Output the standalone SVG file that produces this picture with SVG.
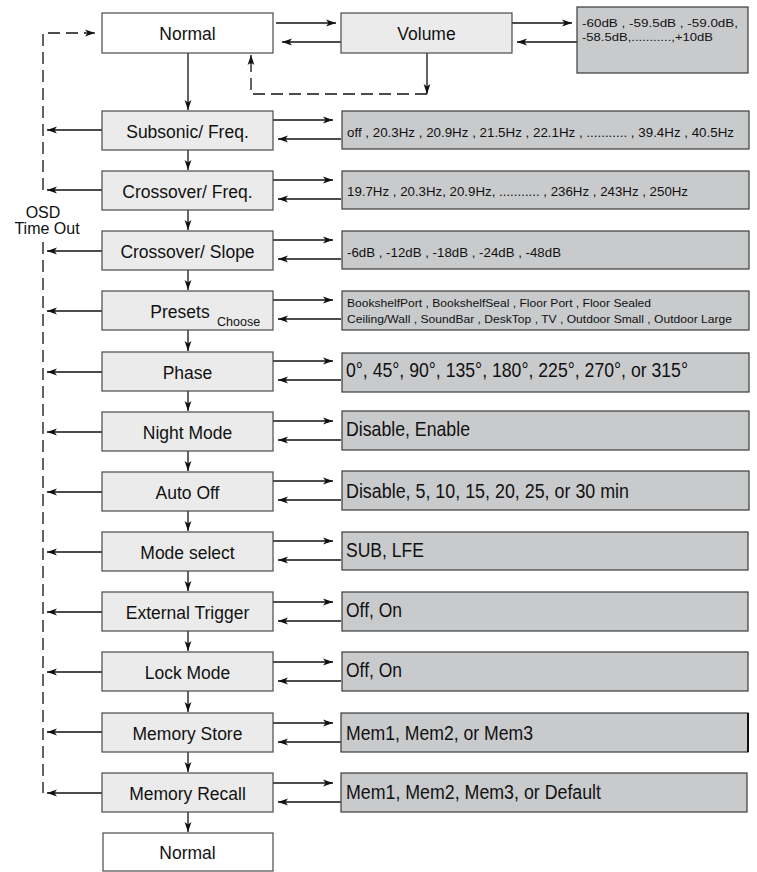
<svg xmlns="http://www.w3.org/2000/svg" width="757" height="872" viewBox="0 0 757 872">
<style>
.box{fill:#ebebeb;stroke:#4a4a4a;stroke-width:1.2}
.wbox{fill:#ffffff;stroke:#4a4a4a;stroke-width:1.2}
.vbox{fill:#c9cacc;stroke:#3a3a3a;stroke-width:1.2}
.lbl{font-family:"Liberation Sans",Arial,sans-serif;font-size:17.5px;fill:#111;text-anchor:middle}
.sm{font-family:"Liberation Sans",Arial,sans-serif;font-size:12.5px;fill:#111}
.xs{font-family:"Liberation Sans",Arial,sans-serif;font-size:11.5px;fill:#111}
.big{font-family:"Liberation Sans",Arial,sans-serif;font-size:20.5px;fill:#111}
.osd{font-family:"Liberation Sans",Arial,sans-serif;font-size:16px;fill:#111;text-anchor:middle}
.ln{fill:none;stroke:#111;stroke-width:1.3;marker-end:url(#ah)}
.dl{fill:none;stroke:#111;stroke-width:1.3;stroke-dasharray:12 6}
</style>
<defs>
<marker id="ah" markerWidth="11" markerHeight="8" refX="10" refY="4" orient="auto" markerUnits="userSpaceOnUse">
<path d="M0,0.6 L10,4 L0,7.4 L2.6,4 z" fill="#111"/>
</marker>
</defs>

<g id="connectors">
<path class="ln" d="M276,23 H336"/>
<path class="ln" d="M341,42 H282"/>
<path class="ln" d="M512,23 H572"/>
<path class="ln" d="M577,42 H517"/>
<path class="ln" d="M427,53 V94"/>
<path class="dl" d="M427,94 H251 V62"/>
<path class="ln" d="M251,64 V55"/>
<path class="dl" d="M43,190 V33 H86"/>
<path class="ln" d="M86,33 H95"/>
<path class="dl" d="M43,242 V793"/>
<path class="ln" d="M188,53 V110"/>
<g id="row-links">
<path class="ln" d="M273,120 H333"/><path class="ln" d="M341,139 H278"/><path class="ln" d="M102,130 H47"/><path class="ln" d="M188,150 V170"/>
<path class="ln" d="M273,180 H333"/><path class="ln" d="M341,199 H278"/><path class="ln" d="M102,190 H47"/><path class="ln" d="M188,210 V230"/>
<path class="ln" d="M273,240 H333"/><path class="ln" d="M341,259 H278"/><path class="ln" d="M102,251 H47"/><path class="ln" d="M188,270 V290"/>
<path class="ln" d="M273,300 H333"/><path class="ln" d="M341,319 H278"/><path class="ln" d="M102,311 H47"/><path class="ln" d="M188,330 V351"/>
<path class="ln" d="M273,361 H333"/><path class="ln" d="M341,380 H278"/><path class="ln" d="M102,372 H47"/><path class="ln" d="M188,391 V411"/>
<path class="ln" d="M273,421 H333"/><path class="ln" d="M341,440 H278"/><path class="ln" d="M102,432 H47"/><path class="ln" d="M188,451 V471"/>
<path class="ln" d="M273,481 H333"/><path class="ln" d="M341,500 H278"/><path class="ln" d="M102,492 H47"/><path class="ln" d="M188,511 V531"/>
<path class="ln" d="M273,541 H333"/><path class="ln" d="M341,560 H278"/><path class="ln" d="M102,552 H47"/><path class="ln" d="M188,571 V591"/>
<path class="ln" d="M273,602 H333"/><path class="ln" d="M341,621 H278"/><path class="ln" d="M102,612 H47"/><path class="ln" d="M188,631 V651"/>
<path class="ln" d="M273,662 H333"/><path class="ln" d="M341,681 H278"/><path class="ln" d="M102,672 H47"/><path class="ln" d="M188,691 V712"/>
<path class="ln" d="M273,723 H333"/><path class="ln" d="M341,742 H278"/><path class="ln" d="M102,732 H47"/><path class="ln" d="M188,752 V772"/>
<path class="ln" d="M273,783 H333"/><path class="ln" d="M341,802 H278"/><path class="ln" d="M102,793 H47"/><path class="ln" d="M188,812 V832"/>
</g>
</g>

<g id="normal-top"><rect class="wbox" x="102" y="13" width="171" height="40"/><text class="lbl" x="187.5" y="40">Normal</text></g>
<g id="volume"><rect class="box" x="341" y="13" width="171" height="40"/><text class="lbl" x="426.5" y="40">Volume</text></g>
<g id="volume-values"><rect class="vbox" x="577" y="7" width="171" height="66"/>
<text class="xs" x="582" y="27" textLength="156" lengthAdjust="spacingAndGlyphs">-60dB , -59.5dB , -59.0dB,</text>
<text class="xs" x="582" y="41" textLength="131" lengthAdjust="spacingAndGlyphs">-58.5dB,...........,+10dB</text></g>

<text class="osd" x="43" y="218">OSD</text>
<text class="osd" x="47" y="234">Time Out</text>

<g id="subsonic"><rect class="box" x="102" y="111" width="171" height="39"/><text class="lbl" x="187.5" y="137.5">Subsonic/ Freq.</text></g>
<g id="subsonic-values"><rect class="vbox" x="342" y="111" width="407" height="38"/><text class="sm" x="347" y="137" textLength="387" lengthAdjust="spacingAndGlyphs">off , 20.3Hz , 20.9Hz , 21.5Hz , 22.1Hz , ........... , 39.4Hz , 40.5Hz</text></g>

<g id="crossover-freq"><rect class="box" x="102" y="171" width="171" height="39"/><text class="lbl" x="187.5" y="197.5">Crossover/ Freq.</text></g>
<g id="crossover-freq-values"><rect class="vbox" x="342" y="171" width="407" height="38"/><text class="sm" x="347" y="196" textLength="341" lengthAdjust="spacingAndGlyphs">19.7Hz , 20.3Hz, 20.9Hz, ........... , 236Hz , 243Hz , 250Hz</text></g>

<g id="crossover-slope"><rect class="box" x="102" y="231" width="171" height="39"/><text class="lbl" x="187.5" y="257.5">Crossover/ Slope</text></g>
<g id="crossover-slope-values"><rect class="vbox" x="342" y="231" width="407" height="38"/><text class="sm" x="347" y="257" textLength="214" lengthAdjust="spacingAndGlyphs">-6dB , -12dB , -18dB , -24dB , -48dB</text></g>

<g id="presets"><rect class="box" x="102" y="291" width="171" height="39"/><text class="lbl" x="180" y="318">Presets</text><text class="sm" x="217" y="326">Choose</text></g>
<g id="presets-values"><rect class="vbox" x="342" y="291" width="407" height="39"/>
<text class="xs" x="347" y="307" textLength="304" lengthAdjust="spacingAndGlyphs">BookshelfPort , BookshelfSeal , Floor Port , Floor Sealed</text>
<text class="xs" x="347" y="323" textLength="385" lengthAdjust="spacingAndGlyphs">Ceiling/Wall , SoundBar , DeskTop , TV , Outdoor Small , Outdoor Large</text></g>

<g id="phase"><rect class="box" x="102" y="352" width="171" height="39"/><text class="lbl" x="187.5" y="378.5">Phase</text></g>
<g id="phase-values"><rect class="vbox" x="342" y="353" width="407" height="39"/><text class="big" x="346" y="377" textLength="342" lengthAdjust="spacingAndGlyphs">0°, 45°, 90°, 135°, 180°, 225°, 270°, or 315°</text></g>

<g id="night-mode"><rect class="box" x="102" y="412" width="171" height="39"/><text class="lbl" x="187.5" y="438.5">Night Mode</text></g>
<g id="night-mode-values"><rect class="vbox" x="342" y="411" width="407" height="39"/><text class="big" x="346" y="436" textLength="124" lengthAdjust="spacingAndGlyphs">Disable, Enable</text></g>

<g id="auto-off"><rect class="box" x="102" y="472" width="171" height="39"/><text class="lbl" x="187.5" y="498.5">Auto Off</text></g>
<g id="auto-off-values"><rect class="vbox" x="342" y="471" width="407" height="39"/><text class="big" x="346" y="498" textLength="283" lengthAdjust="spacingAndGlyphs">Disable, 5, 10, 15, 20, 25, or 30 min</text></g>

<g id="mode-select"><rect class="box" x="102" y="532" width="171" height="39"/><text class="lbl" x="187.5" y="558.5">Mode select</text></g>
<g id="mode-select-values"><rect class="vbox" x="342" y="532" width="406" height="38"/><text class="big" x="346" y="557" textLength="78" lengthAdjust="spacingAndGlyphs">SUB, LFE</text></g>

<g id="external-trigger"><rect class="box" x="102" y="592" width="171" height="39"/><text class="lbl" x="187.5" y="618.5">External Trigger</text></g>
<g id="external-trigger-values"><rect class="vbox" x="342" y="592" width="406" height="39"/><text class="big" x="346" y="617" textLength="56" lengthAdjust="spacingAndGlyphs">Off, On</text></g>

<g id="lock-mode"><rect class="box" x="102" y="652" width="171" height="39"/><text class="lbl" x="187.5" y="678.5">Lock Mode</text></g>
<g id="lock-mode-values"><rect class="vbox" x="342" y="652" width="406" height="39"/><text class="big" x="346" y="677" textLength="56" lengthAdjust="spacingAndGlyphs">Off, On</text></g>

<g id="memory-store"><rect class="box" x="102" y="713" width="171" height="39"/><text class="lbl" x="187.5" y="739.5">Memory Store</text></g>
<g id="memory-store-values"><rect class="vbox" x="341" y="713" width="407" height="39"/><line x1="748" y1="713" x2="748" y2="752" stroke="#111" stroke-width="2"/><text class="big" x="346" y="740" textLength="187" lengthAdjust="spacingAndGlyphs">Mem1, Mem2, or Mem3</text></g>

<g id="memory-recall"><rect class="box" x="102" y="773" width="171" height="39"/><text class="lbl" x="187.5" y="799.5">Memory Recall</text></g>
<g id="memory-recall-values"><rect class="vbox" x="341" y="773" width="406" height="39"/><text class="big" x="346" y="799" textLength="255" lengthAdjust="spacingAndGlyphs">Mem1, Mem2, Mem3, or Default</text></g>

<g id="normal-bottom"><rect class="wbox" x="103" y="833" width="170" height="38"/><text class="lbl" x="187.5" y="859">Normal</text></g>
</svg>
